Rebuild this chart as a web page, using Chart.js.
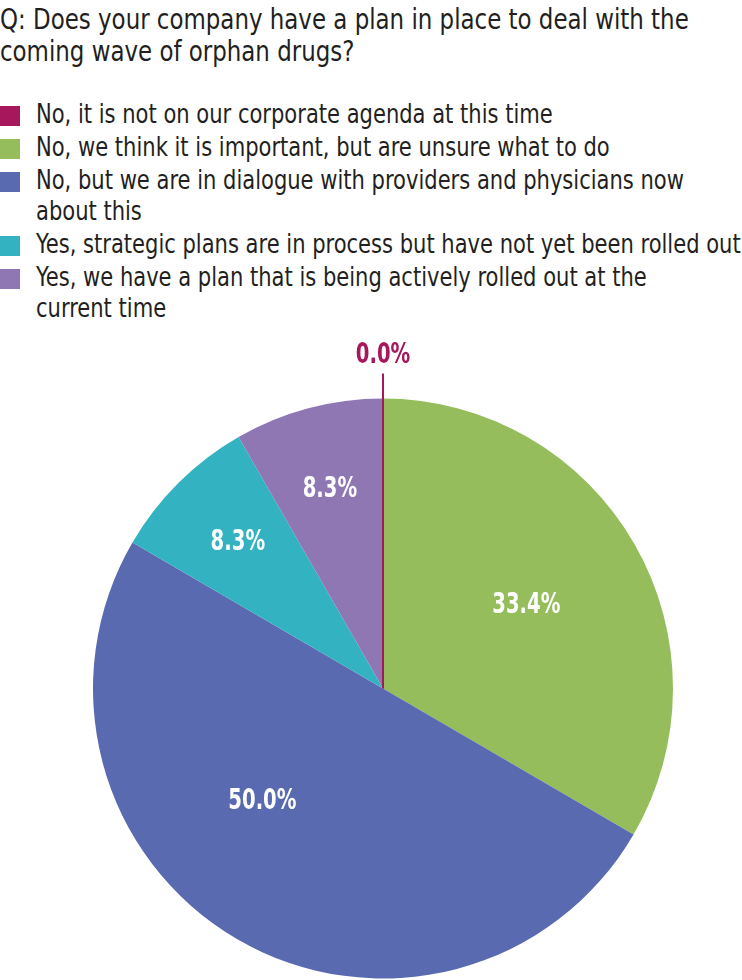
<!DOCTYPE html>
<html lang="en">
<head>
<meta charset="UTF-8">
<title>Orphan drugs plan</title>
<script src="https://cdn.jsdelivr.net/npm/chart.js"></script>
<style>
    body {
        margin: 0;
        width: 742px;
        height: 980px;
        background: #ffffff;
        font-family: 'DejaVu Sans Condensed', 'Liberation Sans Narrow', sans-serif;
        color: #231f20;
        position: relative;
        overflow: hidden;
    }
    h1 {
        position: absolute;
        left: 0;
        top: 4px;
        margin: 0;
        font-size: 28px;
        font-weight: normal;
        line-height: 32px;
        white-space: nowrap;
        transform: scaleX(0.91);
        transform-origin: 0 0;
    }
    #legend {
        position: absolute;
        left: 0;
        top: 99px;
        margin: 0;
        padding: 0;
        list-style: none;
        font-size: 26px;
        line-height: 31px;
        white-space: nowrap;
    }
    #legend li {
        position: relative;
        padding-left: 36px;
        margin-bottom: 2px;
    }
    #legend li span.sw {
        position: absolute;
        left: 0;
        top: 7px;
        width: 20px;
        height: 20px;
    }
    #legend li span.tx {
        display: inline-block;
        transform: scaleX(0.9);
        transform-origin: 0 0;
    }
    .chart-box {
        position: absolute;
        left: 0;
        top: 330px;
        width: 742px;
        height: 650px;
    }
</style>
</head>
<body>
<h1>Q: Does your company have a plan in place to deal with the<br>coming wave of orphan drugs?</h1>
<ul id="legend"></ul>
<div class="chart-box"><canvas id="pie"></canvas></div>

<script>
    // answers (one array per wrapped legend line), shares in percent, slice colours
    const categories = [
        ['No, it is not on our corporate agenda at this time'],
        ['No, we think it is important, but are unsure what to do'],
        ['No, but we are in dialogue with providers and physicians now', 'about this'],
        ['Yes, strategic plans are in process but have not yet been rolled out'],
        ['Yes, we have a plan that is being actively rolled out at the', 'current time']
    ];
    const shares = [0.0, 33.4, 50.0, 8.3, 8.3];
    const colors = ['#a6175c', '#95bd5b', '#5a6ab0', '#33b3c1', '#8f77b4'];

    // html legend
    const legendEl = document.getElementById('legend');
    categories.forEach((c, i) => {
        const li = document.createElement('li');
        li.innerHTML = '<span class="sw" style="background:' + colors[i] + '"></span>' +
            '<span class="tx">' + c.join('<br>') + '</span>';
        legendEl.appendChild(li);
    });

    // value labels inside the slices, zero slice gets a leader line on top
    const sliceLabels = {
        id: 'sliceLabels',
        afterDatasetsDraw(chart) {
            const ctx = chart.ctx;
            const meta = chart.getDatasetMeta(0);
            const sx = 0.78;
            ctx.save();
            ctx.font = 'bold 28px "DejaVu Sans Condensed", sans-serif';
            ctx.textAlign = 'center';
            ctx.textBaseline = 'middle';
            const put = (txt, x, y) => {
                ctx.save();
                ctx.translate(x, y);
                ctx.scale(sx, 1);
                ctx.fillText(txt, 0, 0);
                ctx.restore();
            };
            meta.data.forEach((arc, i) => {
                const p = arc.getProps(['x', 'y', 'startAngle', 'endAngle', 'outerRadius'], true);
                const txt = shares[i].toFixed(1) + '%';
                if (shares[i] === 0) {
                    const a = p.startAngle;
                    ctx.strokeStyle = colors[i];
                    ctx.lineWidth = 2;
                    ctx.beginPath();
                    ctx.moveTo(p.x, p.y);
                    ctx.lineTo(p.x + Math.cos(a) * (p.outerRadius + 25), p.y + Math.sin(a) * (p.outerRadius + 25));
                    ctx.stroke();
                    ctx.fillStyle = colors[i];
                    put(txt, p.x + Math.cos(a) * (p.outerRadius + 43), p.y + Math.sin(a) * (p.outerRadius + 43));
                    return;
                }
                const big = shares[i] > 20;
                let a = (p.startAngle + p.endAngle) / 2;
                if (shares[i] >= 50) a += 0.29;
                const r = p.outerRadius * (big ? 0.57 : 0.71);
                ctx.fillStyle = '#ffffff';
                put(txt, p.x + Math.cos(a) * r, p.y + Math.sin(a) * r);
            });
            ctx.restore();
        }
    };

    new Chart(document.getElementById('pie'), {
        type: 'pie',
        data: {
            labels: categories,
            datasets: [{
                data: shares,
                backgroundColor: colors,
                borderWidth: 0
            }]
        },
        options: {
            responsive: true,
            maintainAspectRatio: false,
            animation: false,
            layout: {
                padding: { top: 67, bottom: 0, left: 93, right: 69 }
            },
            plugins: {
                legend: { display: false },
                tooltip: { enabled: false }
            }
        },
        plugins: [sliceLabels]
    });
</script>
</body>
</html>
